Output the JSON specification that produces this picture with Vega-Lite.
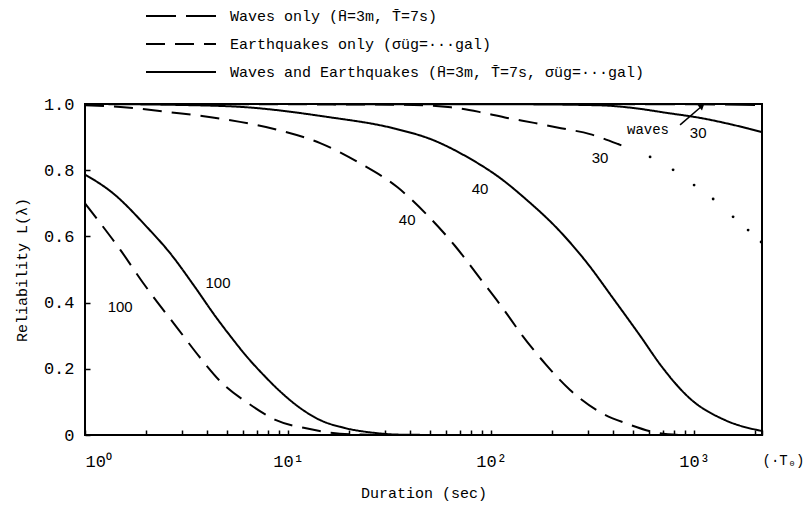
{
  "$schema": "https://vega.github.io/schema/vega-lite/v6.json",
  "autosize": {"type": "none"},
  "width": 677,
  "height": 331,
  "padding": {"left": 85, "top": 104, "right": 46, "bottom": 75},
  "background": "white",
  "config": {
    "view": {"stroke": "black", "strokeWidth": 2},
    "axis": {"domain": false, "grid": false, "tickColor": "black", "tickWidth": 1.5, "labelColor": "black", "titleColor": "black"}
  },
  "datasets": {
    "curves": [
      {"s": "W", "type": "Waves only (H\u0304=3m, T\u0304=7s)", "t": 1, "L": 1.0},
      {"s": "W", "type": "Waves only (H\u0304=3m, T\u0304=7s)", "t": 100, "L": 1.0},
      {"s": "W", "type": "Waves only (H\u0304=3m, T\u0304=7s)", "t": 1000, "L": 0.999},
      {"s": "W", "type": "Waves only (H\u0304=3m, T\u0304=7s)", "t": 2160, "L": 0.997},

      {"s": "E100", "type": "Earthquakes only (σüg=···gal)", "t": 1, "L": 0.70},
      {"s": "E100", "type": "Earthquakes only (σüg=···gal)", "t": 1.19, "L": 0.64},
      {"s": "E100", "type": "Earthquakes only (σüg=···gal)", "t": 1.49, "L": 0.56},
      {"s": "E100", "type": "Earthquakes only (σüg=···gal)", "t": 1.93, "L": 0.46},
      {"s": "E100", "type": "Earthquakes only (σüg=···gal)", "t": 2.9, "L": 0.317},
      {"s": "E100", "type": "Earthquakes only (σüg=···gal)", "t": 3.73, "L": 0.23},
      {"s": "E100", "type": "Earthquakes only (σüg=···gal)", "t": 4.73, "L": 0.157},
      {"s": "E100", "type": "Earthquakes only (σüg=···gal)", "t": 6.43, "L": 0.094},
      {"s": "E100", "type": "Earthquakes only (σüg=···gal)", "t": 8.73, "L": 0.045},
      {"s": "E100", "type": "Earthquakes only (σüg=···gal)", "t": 12.8, "L": 0.018},
      {"s": "E100", "type": "Earthquakes only (σüg=···gal)", "t": 18, "L": 0.004},
      {"s": "E100", "type": "Earthquakes only (σüg=···gal)", "t": 30, "L": 0.0},

      {"s": "E40", "type": "Earthquakes only (σüg=···gal)", "t": 1, "L": 0.996},
      {"s": "E40", "type": "Earthquakes only (σüg=···gal)", "t": 1.72, "L": 0.988},
      {"s": "E40", "type": "Earthquakes only (σüg=···gal)", "t": 2.54, "L": 0.976},
      {"s": "E40", "type": "Earthquakes only (σüg=···gal)", "t": 3.77, "L": 0.964},
      {"s": "E40", "type": "Earthquakes only (σüg=···gal)", "t": 5.8, "L": 0.946},
      {"s": "E40", "type": "Earthquakes only (σüg=···gal)", "t": 9.03, "L": 0.921},
      {"s": "E40", "type": "Earthquakes only (σüg=···gal)", "t": 14.4, "L": 0.882},
      {"s": "E40", "type": "Earthquakes only (σüg=···gal)", "t": 22.9, "L": 0.819},
      {"s": "E40", "type": "Earthquakes only (σüg=···gal)", "t": 34.5, "L": 0.749},
      {"s": "E40", "type": "Earthquakes only (σüg=···gal)", "t": 48.4, "L": 0.665},
      {"s": "E40", "type": "Earthquakes only (σüg=···gal)", "t": 66.5, "L": 0.571},
      {"s": "E40", "type": "Earthquakes only (σüg=···gal)", "t": 87.3, "L": 0.477},
      {"s": "E40", "type": "Earthquakes only (σüg=···gal)", "t": 113, "L": 0.387},
      {"s": "E40", "type": "Earthquakes only (σüg=···gal)", "t": 142, "L": 0.302},
      {"s": "E40", "type": "Earthquakes only (σüg=···gal)", "t": 185, "L": 0.215},
      {"s": "E40", "type": "Earthquakes only (σüg=···gal)", "t": 245, "L": 0.136},
      {"s": "E40", "type": "Earthquakes only (σüg=···gal)", "t": 344, "L": 0.069},
      {"s": "E40", "type": "Earthquakes only (σüg=···gal)", "t": 473, "L": 0.033},
      {"s": "E40", "type": "Earthquakes only (σüg=···gal)", "t": 643, "L": 0.008},
      {"s": "E40", "type": "Earthquakes only (σüg=···gal)", "t": 853, "L": 0.0},

      {"s": "E30", "type": "Earthquakes only (σüg=···gal)", "t": 1, "L": 1.0},
      {"s": "E30", "type": "Earthquakes only (σüg=···gal)", "t": 35.6, "L": 0.998},
      {"s": "E30", "type": "Earthquakes only (σüg=···gal)", "t": 63.5, "L": 0.99},
      {"s": "E30", "type": "Earthquakes only (σüg=···gal)", "t": 89.3, "L": 0.975},
      {"s": "E30", "type": "Earthquakes only (σüg=···gal)", "t": 120, "L": 0.958},
      {"s": "E30", "type": "Earthquakes only (σüg=···gal)", "t": 163, "L": 0.943},
      {"s": "E30", "type": "Earthquakes only (σüg=···gal)", "t": 221, "L": 0.927},
      {"s": "E30", "type": "Earthquakes only (σüg=···gal)", "t": 307, "L": 0.909},
      {"s": "E30", "type": "Earthquakes only (σüg=···gal)", "t": 422, "L": 0.879},
      {"s": "E30", "type": "Earthquakes only (σüg=···gal)", "t": 468, "L": 0.868},

      {"s": "C100", "type": "Waves and Earthquakes (H\u0304=3m, T\u0304=7s, σüg=···gal)", "t": 1, "L": 0.787},
      {"s": "C100", "type": "Waves and Earthquakes (H\u0304=3m, T\u0304=7s, σüg=···gal)", "t": 1.37, "L": 0.731},
      {"s": "C100", "type": "Waves and Earthquakes (H\u0304=3m, T\u0304=7s, σüg=···gal)", "t": 2.02, "L": 0.628},
      {"s": "C100", "type": "Waves and Earthquakes (H\u0304=3m, T\u0304=7s, σüg=···gal)", "t": 2.62, "L": 0.55},
      {"s": "C100", "type": "Waves and Earthquakes (H\u0304=3m, T\u0304=7s, σüg=···gal)", "t": 3.48, "L": 0.447},
      {"s": "C100", "type": "Waves and Earthquakes (H\u0304=3m, T\u0304=7s, σüg=···gal)", "t": 4.37, "L": 0.36},
      {"s": "C100", "type": "Waves and Earthquakes (H\u0304=3m, T\u0304=7s, σüg=···gal)", "t": 5.18, "L": 0.30},
      {"s": "C100", "type": "Waves and Earthquakes (H\u0304=3m, T\u0304=7s, σüg=···gal)", "t": 6.28, "L": 0.236},
      {"s": "C100", "type": "Waves and Earthquakes (H\u0304=3m, T\u0304=7s, σüg=···gal)", "t": 7.53, "L": 0.183},
      {"s": "C100", "type": "Waves and Earthquakes (H\u0304=3m, T\u0304=7s, σüg=···gal)", "t": 9.13, "L": 0.132},
      {"s": "C100", "type": "Waves and Earthquakes (H\u0304=3m, T\u0304=7s, σüg=···gal)", "t": 11.1, "L": 0.088},
      {"s": "C100", "type": "Waves and Earthquakes (H\u0304=3m, T\u0304=7s, σüg=···gal)", "t": 14.4, "L": 0.045},
      {"s": "C100", "type": "Waves and Earthquakes (H\u0304=3m, T\u0304=7s, σüg=···gal)", "t": 19.1, "L": 0.021},
      {"s": "C100", "type": "Waves and Earthquakes (H\u0304=3m, T\u0304=7s, σüg=···gal)", "t": 26.2, "L": 0.007},
      {"s": "C100", "type": "Waves and Earthquakes (H\u0304=3m, T\u0304=7s, σüg=···gal)", "t": 36, "L": 0.001},
      {"s": "C100", "type": "Waves and Earthquakes (H\u0304=3m, T\u0304=7s, σüg=···gal)", "t": 60, "L": 0.0},

      {"s": "C40", "type": "Waves and Earthquakes (H\u0304=3m, T\u0304=7s, σüg=···gal)", "t": 1, "L": 1.0},
      {"s": "C40", "type": "Waves and Earthquakes (H\u0304=3m, T\u0304=7s, σüg=···gal)", "t": 3, "L": 0.997},
      {"s": "C40", "type": "Waves and Earthquakes (H\u0304=3m, T\u0304=7s, σüg=···gal)", "t": 6.28, "L": 0.99},
      {"s": "C40", "type": "Waves and Earthquakes (H\u0304=3m, T\u0304=7s, σüg=···gal)", "t": 15.6, "L": 0.961},
      {"s": "C40", "type": "Waves and Earthquakes (H\u0304=3m, T\u0304=7s, σüg=···gal)", "t": 32.9, "L": 0.927},
      {"s": "C40", "type": "Waves and Earthquakes (H\u0304=3m, T\u0304=7s, σüg=···gal)", "t": 51.8, "L": 0.891},
      {"s": "C40", "type": "Waves and Earthquakes (H\u0304=3m, T\u0304=7s, σüg=···gal)", "t": 76.2, "L": 0.84},
      {"s": "C40", "type": "Waves and Earthquakes (H\u0304=3m, T\u0304=7s, σüg=···gal)", "t": 111, "L": 0.776},
      {"s": "C40", "type": "Waves and Earthquakes (H\u0304=3m, T\u0304=7s, σüg=···gal)", "t": 150, "L": 0.71},
      {"s": "C40", "type": "Waves and Earthquakes (H\u0304=3m, T\u0304=7s, σüg=···gal)", "t": 211, "L": 0.625},
      {"s": "C40", "type": "Waves and Earthquakes (H\u0304=3m, T\u0304=7s, σüg=···gal)", "t": 297, "L": 0.52},
      {"s": "C40", "type": "Waves and Earthquakes (H\u0304=3m, T\u0304=7s, σüg=···gal)", "t": 399, "L": 0.413},
      {"s": "C40", "type": "Waves and Earthquakes (H\u0304=3m, T\u0304=7s, σüg=···gal)", "t": 542, "L": 0.30},
      {"s": "C40", "type": "Waves and Earthquakes (H\u0304=3m, T\u0304=7s, σüg=···gal)", "t": 696, "L": 0.205},
      {"s": "C40", "type": "Waves and Earthquakes (H\u0304=3m, T\u0304=7s, σüg=···gal)", "t": 955, "L": 0.11},
      {"s": "C40", "type": "Waves and Earthquakes (H\u0304=3m, T\u0304=7s, σüg=···gal)", "t": 1421, "L": 0.045},
      {"s": "C40", "type": "Waves and Earthquakes (H\u0304=3m, T\u0304=7s, σüg=···gal)", "t": 2160, "L": 0.012},

      {"s": "C30", "type": "Waves and Earthquakes (H\u0304=3m, T\u0304=7s, σüg=···gal)", "t": 1, "L": 1.0},
      {"s": "C30", "type": "Waves and Earthquakes (H\u0304=3m, T\u0304=7s, σüg=···gal)", "t": 139, "L": 0.999},
      {"s": "C30", "type": "Waves and Earthquakes (H\u0304=3m, T\u0304=7s, σüg=···gal)", "t": 344, "L": 0.996},
      {"s": "C30", "type": "Waves and Earthquakes (H\u0304=3m, T\u0304=7s, σüg=···gal)", "t": 501, "L": 0.988},
      {"s": "C30", "type": "Waves and Earthquakes (H\u0304=3m, T\u0304=7s, σüg=···gal)", "t": 736, "L": 0.973},
      {"s": "C30", "type": "Waves and Earthquakes (H\u0304=3m, T\u0304=7s, σüg=···gal)", "t": 1071, "L": 0.958},
      {"s": "C30", "type": "Waves and Earthquakes (H\u0304=3m, T\u0304=7s, σüg=···gal)", "t": 1556, "L": 0.937},
      {"s": "C30", "type": "Waves and Earthquakes (H\u0304=3m, T\u0304=7s, σüg=···gal)", "t": 2160, "L": 0.915}
    ],
    "dots": [
      {"t": 607, "L": 0.84},
      {"t": 788, "L": 0.801},
      {"t": 1000, "L": 0.755},
      {"t": 1241, "L": 0.713},
      {"t": 1556, "L": 0.659},
      {"t": 1845, "L": 0.619},
      {"t": 2138, "L": 0.583}
    ],
    "numlabels": [
      {"t": 4.52, "L": 0.459, "label": "100"},
      {"t": 1.49, "L": 0.387, "label": "100"},
      {"t": 88.3, "L": 0.743, "label": "40"},
      {"t": 38.6, "L": 0.65, "label": "40"},
      {"t": 344, "L": 0.837, "label": "30"},
      {"t": 1047, "L": 0.912, "label": "30"}
    ],
    "wlabel": [
      {"t": 593, "L": 0.921, "label": "waves"}
    ],
    "arrow": [
      {"t": 853, "L": 0.937, "t2": 1094, "L2": 0.994}
    ],
    "arrowhead": [
      {"t": 1094, "L": 0.994}
    ]
  },
  "encoding": {
    "x": {
      "field": "t", "type": "quantitative",
      "scale": {"type": "log", "domain": [1, 2160], "nice": false},
      "axis": {
        "values": [1, 2, 3, 4, 5, 6, 7, 8, 9, 10, 20, 30, 40, 50, 60, 70, 80, 90, 100, 200, 300, 400, 500, 600, 700, 800, 900, 1000, 2000, 2160],
        "labelExpr": "datum.value == 1 ? '10\u2070' : datum.value == 10 ? '10\u00b9' : datum.value == 100 ? '10\u00b2' : datum.value == 1000 ? '10\u00b3' : datum.value == 2160 ? '(\u00b7T\u2080)' : ''",
        "labelFlush": false,
        "labelOverlap": false,
        "labelAlign": {"condition": {"test": "datum.value == 1 || datum.value > 1500", "value": "left"}, "value": "center"},
        "labelFontSize": {"condition": {"test": "datum.value > 1500", "value": 14}, "value": 17},
        "tickSize": -5,
        "labelPadding": 23,
        "labelFont": "Liberation Mono",
        "title": "Duration (sec)",
        "titleFont": "Liberation Mono",
        "titleFontSize": 15,
        "titleFontWeight": "normal",
        "titlePadding": 16
      }
    },
    "y": {
      "field": "L", "type": "quantitative",
      "scale": {"domain": [0, 1], "nice": false, "zero": false},
      "axis": {
        "values": [0, 0.2, 0.4, 0.6, 0.8, 1.0],
        "labelExpr": "datum.value == 0 ? '0' : format(datum.value, '.1f')",
        "tickSize": -5,
        "labelPadding": 16,
        "labelFont": "Liberation Mono",
        "labelFontSize": 17,
        "title": "Reliability L(λ)",
        "titleFont": "Liberation Mono",
        "titleFontSize": 15,
        "titleFontWeight": "normal",
        "titlePadding": 14
      }
    }
  },
  "layer": [
    {
      "data": {"name": "curves"},
      "mark": {"type": "line", "color": "black", "strokeWidth": 2, "interpolate": "monotone"},
      "encoding": {
        "detail": {"field": "s", "type": "nominal"},
        "strokeDash": {
          "field": "type", "type": "nominal",
          "scale": {
            "domain": ["Waves only (H\u0304=3m, T\u0304=7s)", "Earthquakes only (σüg=···gal)", "Waves and Earthquakes (H\u0304=3m, T\u0304=7s, σüg=···gal)"],
            "range": [[30, 10], [19, 10], [1, 0]]
          },
          "legend": {
            "orient": "none",
            "legendX": 88,
            "legendY": -96,
            "title": null,
            "padding": 0,
            "rowPadding": 12,
            "symbolType": "M-5,0H5",
            "symbolSize": 196,
            "symbolStrokeWidth": 2,
            "symbolStrokeColor": "black",
            "symbolFillColor": "transparent",
            "labelFont": "Liberation Mono",
            "labelFontSize": 15,
            "labelColor": "black",
            "labelOffset": 41,
            "labelLimit": 700
          }
        }
      }
    },
    {
      "data": {"name": "dots"},
      "mark": {"type": "point", "filled": true, "color": "black", "size": 8, "opacity": 1}
    },
    {
      "data": {"name": "numlabels"},
      "mark": {"type": "text", "font": "Liberation Sans", "fontSize": 15, "color": "black"},
      "encoding": {"text": {"field": "label"}}
    },
    {
      "data": {"name": "wlabel"},
      "mark": {"type": "text", "font": "Liberation Mono", "fontSize": 14, "color": "black"},
      "encoding": {"text": {"field": "label"}}
    },
    {
      "data": {"name": "arrow"},
      "mark": {"type": "rule", "color": "black", "strokeWidth": 1.5},
      "encoding": {"x2": {"field": "t2"}, "y2": {"field": "L2"}}
    },
    {
      "data": {"name": "arrowhead"},
      "mark": {"type": "point", "shape": "triangle-up", "filled": true, "color": "black", "size": 45, "angle": 49, "opacity": 1}
    }
  ]
}
